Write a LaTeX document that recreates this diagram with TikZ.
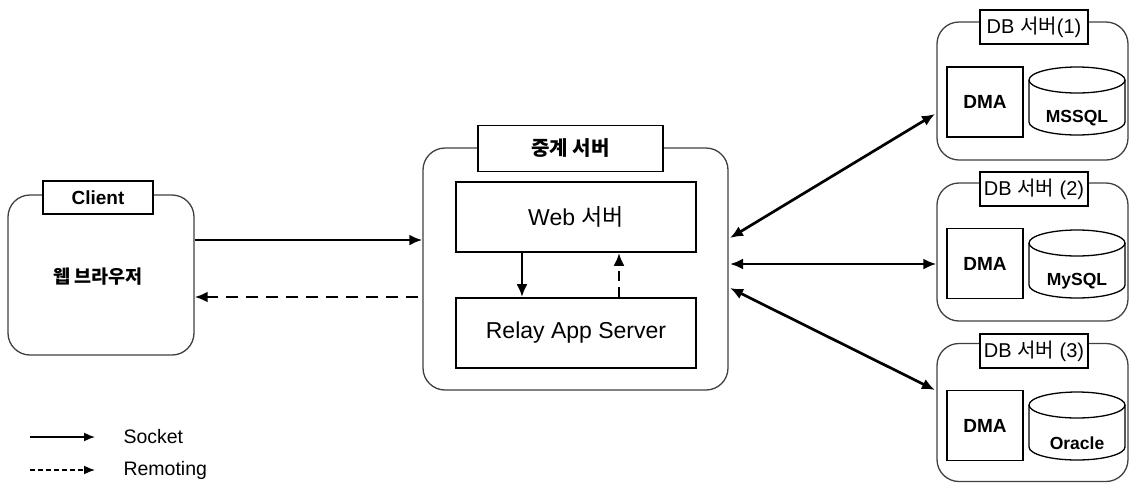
\documentclass[tikz,border=0pt]{standalone}
\usepackage{fontspec}
\setmainfont{Liberation Sans}
\newfontfamily\kr{Noto Sans CJK KR}
\usetikzlibrary{arrows.meta}
\tikzset{
  outerbox/.style={draw=black!75, line width=1.3pt, rounded corners=22pt, fill=white, inner sep=0pt},
  tagbox/.style={draw=black, line width=1.4pt, fill=white, inner sep=0pt},
  innerbox/.style={draw=black, line width=1.7pt, fill=white, inner sep=0pt},
  conn/.style={line width=2.7pt, -{Latex[length=13pt,width=11pt]}},
  biconn/.style={line width=2.7pt, {Latex[length=13pt,width=11pt]}-{Latex[length=13pt,width=11pt]}},
  remote/.style={line width=2.7pt, dash pattern=on 12pt off 8pt, -{Latex[length=13pt,width=11pt]}},
  lbl/.style={font=\fontsize{19}{21}\selectfont\bfseries},
  krlbl/.style={font=\kr\fontsize{20}{22}\selectfont\bfseries},
  big/.style={font=\fontsize{23}{26}\selectfont},
  dbfont/.style={font=\fontsize{20}{22}\selectfont},
  cyl/.style={draw=black, line width=1.3pt, fill=white},
}
\begin{document}
\begin{tikzpicture}[x=1pt, y=-1pt]
\useasboundingbox (0,0) rectangle (1132,483);

% Client
\node[outerbox, minimum width=186, minimum height=160] (client) at (101,275) {};
\node[tagbox, minimum width=110, minimum height=33, lbl] (clienttag) at (98,197.5) {Client};
\node[font=\kr\fontsize{18.5}{21}\selectfont\bfseries] (browser) at (98,277) {웹 브라우저};

% Relay server
\node[outerbox, minimum width=305, minimum height=242] (relay) at (575.5,269) {};
\node[tagbox, minimum width=185, minimum height=46, krlbl] (relaytag) at (570.5,148.5) {중계 서버};
\node[innerbox, minimum width=240, minimum height=70, big] (web) at (576,217) {Web {\kr 서버}};
\node[innerbox, minimum width=240, minimum height=70, big] (app) at (576,333) {Relay App Server};

\coordinate (downx) at (522,0);
\coordinate (upx) at (619,0);
\draw[conn] (web.south -| downx) -- (app.north -| downx);
\draw[line width=2.7pt, dash pattern=on 10pt off 6pt, -{Latex[length=13pt,width=11pt]}] (app.north -| upx) -- (web.south -| upx);

% Client <-> relay
\coordinate (sy) at (0,240);
\coordinate (ry) at (0,297);
\coordinate (rstart) at (418,297);
\draw[conn] (client.east |- sy) -- (relay.west |- sy);
\draw[remote] (rstart) -- (client.east |- ry);

% DB servers
\foreach \i/\cy/\ty/\dy/\ct/\db/\tag in {1/91/27/102/67/MSSQL/DB {\kr 서버}(1),2/252/189/263.5/230/MySQL/DB {\kr 서버} (2),3/412.5/351/425.5/392/Oracle/DB {\kr 서버} (3)}{
  \node[outerbox, minimum width=191, minimum height=138] (db\i) at (1032.5,\cy) {};
  \node[tagbox, minimum width=108, minimum height=34, dbfont] (dbtag\i) at (1034,\ty) {\tag};
  \node[innerbox, minimum width=76, minimum height=70, lbl] (dma\i) at (985,\dy) {DMA};
  % cylinder
  \draw[cyl] (1029,\ct+13) -- (1029,\ct+55) arc[start angle=180, end angle=0, x radius=48, y radius=13] -- (1125,\ct+13);
  \draw[cyl] (1077,\ct+13) ellipse[x radius=48, y radius=13];
  \node[font=\fontsize{17.5}{19}\selectfont\bfseries] (store\i) at (1077,\ct+51) {\db};
}

% relay <-> DB
\coordinate (a1) at (730,238);
\coordinate (a2) at (730,264);
\coordinate (a3) at (730,288);
\coordinate (b1) at (935,114);
\coordinate (b3) at (935,390);
\draw[biconn] (a1) -- (b1);
\draw[biconn] (a2) -- (db2.west |- a2);
\draw[biconn] (a3) -- (b3);

% Legend
\coordinate (l1a) at (30,437);
\coordinate (l1b) at (95,437);
\coordinate (l2a) at (30,470);
\coordinate (l2b) at (95,470);
\draw[line width=1.6pt, -{Latex[length=11pt,width=9pt]}] (l1a) -- (l1b);
\draw[line width=1.6pt, dash pattern=on 5pt off 3pt, -{Latex[length=11pt,width=9pt]}] (l2a) -- (l2b);
\node[anchor=west, font=\fontsize{19.5}{21}\selectfont] (socket) at (120,437) {Socket};
\node[anchor=west, font=\fontsize{19.5}{21}\selectfont] (remoting) at (120,470) {Remoting};
\end{tikzpicture}
\end{document}
